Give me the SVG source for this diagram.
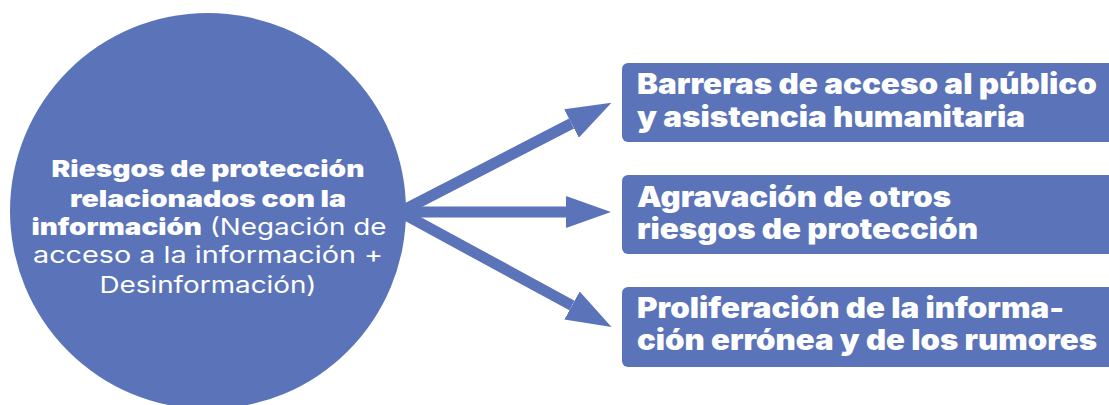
<svg xmlns="http://www.w3.org/2000/svg" width="1109" height="405" viewBox="0 0 1109 405">
<style>
.fill{fill:#5B74B9}
.conn{stroke:#5B74B9;stroke-width:11;fill:none;marker-end:url(#head)}
.t{fill:#fff;font-family:Inter,"Liberation Sans",sans-serif}
.b{font-weight:900}
.r{font-weight:400}
.bt{font-size:28px;font-weight:900}
.ct{font-size:23px;text-anchor:middle}
</style>
<defs>
<marker id="head" markerUnits="userSpaceOnUse" viewBox="0 0 45 32" refX="0" refY="16" markerWidth="45" markerHeight="32" orient="auto">
<path d="M0,0 L45,16 L0,32 Z" fill="#5B74B9"/>
</marker>
</defs>
<rect width="1109" height="405" fill="#fff"/>
<g id="connectors">
<line class="conn" x1="400" y1="212" x2="571.5" y2="123.5"/>
<line class="conn" x1="400" y1="212" x2="566" y2="212"/>
<line class="conn" x1="400" y1="212" x2="572" y2="305.5"/>
</g>
<g id="center">
<circle class="fill" cx="208" cy="211" r="198"/>
<text class="t ct b" x="208" y="177" textLength="313" lengthAdjust="spacingAndGlyphs">Riesgos de protección</text>
<text class="t ct b" x="208" y="207" textLength="276" lengthAdjust="spacingAndGlyphs">relacionados con la</text>
<text class="t ct" x="209" y="235" textLength="355" lengthAdjust="spacingAndGlyphs"><tspan class="b">información</tspan><tspan class="r"> (Negación de</tspan></text>
<text class="t ct r" x="208" y="263" textLength="350" lengthAdjust="spacingAndGlyphs">acceso a la información +</text>
<text class="t ct r" x="208" y="293" textLength="217" lengthAdjust="spacingAndGlyphs">Desinformación)</text>
</g>
<g id="box1">
<rect class="fill" x="622" y="63" width="520" height="79" rx="6"/>
<text class="t bt" x="637" y="94" textLength="460" lengthAdjust="spacingAndGlyphs">Barreras de acceso al público</text>
<text class="t bt" x="637" y="127" textLength="388" lengthAdjust="spacingAndGlyphs">y asistencia humanitaria</text>
</g>
<g id="box2">
<rect class="fill" x="622" y="175" width="520" height="79" rx="6"/>
<text class="t bt" x="637" y="207" textLength="314" lengthAdjust="spacingAndGlyphs">Agravación de otros</text>
<text class="t bt" x="637" y="239" textLength="341" lengthAdjust="spacingAndGlyphs">riesgos de protección</text>
</g>
<g id="box3">
<rect class="fill" x="622" y="287" width="520" height="80" rx="6"/>
<text class="t bt" x="637" y="318" textLength="427" lengthAdjust="spacingAndGlyphs">Proliferación de la informa-</text>
<text class="t bt" x="637" y="350" textLength="460" lengthAdjust="spacingAndGlyphs">ción errónea y de los rumores</text>
</g>
</svg>
